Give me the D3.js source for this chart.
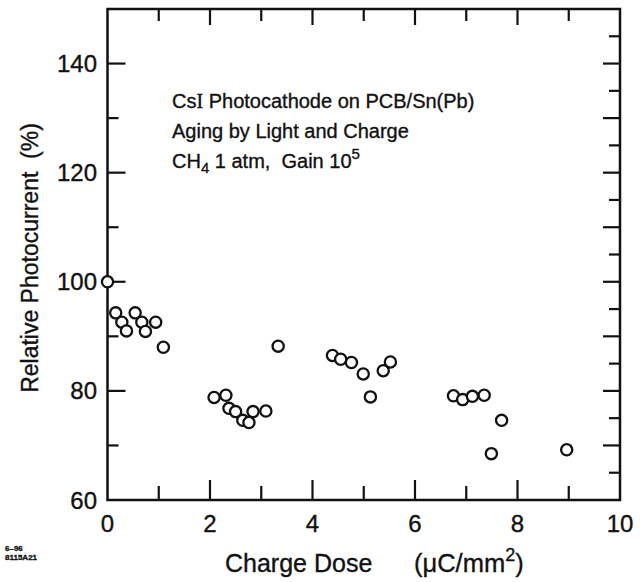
<!DOCTYPE html>
<html>
<head>
<meta charset="utf-8">
<script src="https://cdn.jsdelivr.net/npm/d3@7"></script>
<style>
  body { margin: 0; background: white; }
  text { font-family: "Liberation Sans", Arial, sans-serif; fill: #111; stroke: #111; stroke-width: 0.35; }
</style>
</head>
<body>
<div id="container"></div>
<script>
let w = 640;
let h = 582;

// data
let doseValues = [0.0, 0.16, 0.28, 0.37, 0.54, 0.67, 0.74, 0.94, 1.09,
  2.08, 2.31, 2.37, 2.50, 2.64, 2.76, 2.84, 3.09, 3.33,
  4.39, 4.55, 4.76, 4.99, 5.13, 5.38, 5.52,
  6.75, 6.93, 7.12, 7.35, 7.49, 7.69, 8.96];
let photocurrentValues = [100, 94.3, 92.6, 91.0, 94.3, 92.6, 90.9, 92.6, 88.0,
  78.8, 79.2, 76.8, 76.2, 74.6, 74.2, 76.2, 76.3, 88.2,
  86.5, 85.8, 85.2, 83.1, 78.9, 83.7, 85.3,
  79.1, 78.4, 79.0, 79.2, 68.5, 74.6, 69.2];
let xTickLabels = [0, 2, 4, 6, 8, 10];
let yTickLabels = [60, 80, 100, 120, 140];

let points = doseValues.map(function (d, i) {
  return { dose: d, current: photocurrentValues[i] };
});

let viz = d3.select("#container")
  .append("svg")
  .attr("width", w)
  .attr("height", h)
  .style("background-color", "white");

let xScale = d3.scaleLinear().domain([0, 10]).range([107.5, 620]);
let yScale = d3.scaleLinear().domain([60, 150]).range([500, 9]);

// frame
viz.append("rect")
  .attr("x", xScale(0))
  .attr("y", yScale(150))
  .attr("width", xScale(10) - xScale(0))
  .attr("height", yScale(60) - yScale(150))
  .attr("fill", "none")
  .attr("stroke", "#111")
  .attr("stroke-width", 2.5);

let tickGroup = viz.append("g").attr("class", "ticks").attr("stroke", "#111").attr("stroke-width", 2.2);

// bottom + top ticks, every unit
d3.range(1, 10).forEach(function (v) {
  let len = v % 2 == 0 ? 20 : 14;
  tickGroup.append("line")
    .attr("x1", xScale(v)).attr("x2", xScale(v))
    .attr("y1", yScale(60)).attr("y2", yScale(60) - len);
  tickGroup.append("line")
    .attr("x1", xScale(v)).attr("x2", xScale(v))
    .attr("y1", yScale(150)).attr("y2", yScale(150) + (v % 2 == 0 ? 16 : 12));
});

// left ticks every 10, right ticks every 5
d3.range(70, 150, 10).forEach(function (v) {
  let len = v % 20 == 0 ? 18 : 11;
  tickGroup.append("line")
    .attr("x1", xScale(0)).attr("x2", xScale(0) + len)
    .attr("y1", yScale(v)).attr("y2", yScale(v));
});
d3.range(65, 150, 5).forEach(function (v) {
  let len = v % 10 == 0 ? 17 : 11;
  tickGroup.append("line")
    .attr("x1", xScale(10)).attr("x2", xScale(10) - len)
    .attr("y1", yScale(v)).attr("y2", yScale(v));
});

// tick labels
viz.append("g").selectAll("text").data(xTickLabels).enter()
  .append("text")
  .attr("x", function (d) { return xScale(d); })
  .attr("y", 532)
  .attr("text-anchor", "middle")
  .attr("font-size", 24)
  .text(function (d) { return d; });

viz.append("g").selectAll("text").data(yTickLabels).enter()
  .append("text")
  .attr("x", 97)
  .attr("y", function (d) { return yScale(d) + 8.5; })
  .attr("text-anchor", "end")
  .attr("font-size", 24)
  .text(function (d) { return d; });

// axis titles
viz.append("text")
  .attr("transform", "translate(38, 258) rotate(-90)")
  .attr("text-anchor", "middle")
  .attr("font-size", 23)
  .attr("xml:space", "preserve")
  .text("Relative Photocurrent  (%)");

viz.append("text")
  .attr("x", 225)
  .attr("y", 572)
  .attr("font-size", 25)
  .text("Charge Dose");

let xUnit = viz.append("text")
  .attr("x", 414)
  .attr("y", 572)
  .attr("font-size", 25.5);
xUnit.append("tspan").text("(\u03bcC/mm");
xUnit.append("tspan").attr("dy", -11).attr("font-size", 18).text("2");
xUnit.append("tspan").attr("dy", 11).text(")");

// annotation
let annoX = 172;
let line1 = viz.append("text").attr("x", annoX).attr("y", 108).attr("font-size", 20);
line1.append("tspan").text("Cs");
line1.append("tspan").attr("font-family", "'Liberation Serif', serif").text("I");
line1.append("tspan").text(" Photocathode on PCB/Sn(Pb)");

viz.append("text").attr("x", annoX).attr("y", 138).attr("font-size", 20)
  .text("Aging by Light and Charge");

let line3 = viz.append("text")
  .attr("x", annoX)
  .attr("y", 168)
  .attr("font-size", 20)
  .attr("xml:space", "preserve");
line3.append("tspan").text("CH");
line3.append("tspan").attr("dy", 5).attr("font-size", 15).text("4");
line3.append("tspan").attr("dy", -5).text(" 1 atm,  Gain 10");
line3.append("tspan").attr("dy", -9).attr("font-size", 15).text("5");

// figure code
viz.append("text").attr("x", 5).attr("y", 551).attr("font-size", 8).attr("font-weight", "bold").attr("stroke-width", 0).text("6\u201396");
viz.append("text").attr("x", 5).attr("y", 560).attr("font-size", 8).attr("font-weight", "bold").attr("stroke-width", 0).text("8115A21");

// data points
viz.append("g").attr("class", "points")
  .selectAll("circle").data(points).enter()
  .append("circle")
  .attr("cx", function (d) { return xScale(d.dose); })
  .attr("cy", function (d) { return yScale(d.current); })
  .attr("r", 5.6)
  .attr("fill", "white")
  .attr("stroke", "#111")
  .attr("stroke-width", 2.3);
</script>
</body>
</html>
